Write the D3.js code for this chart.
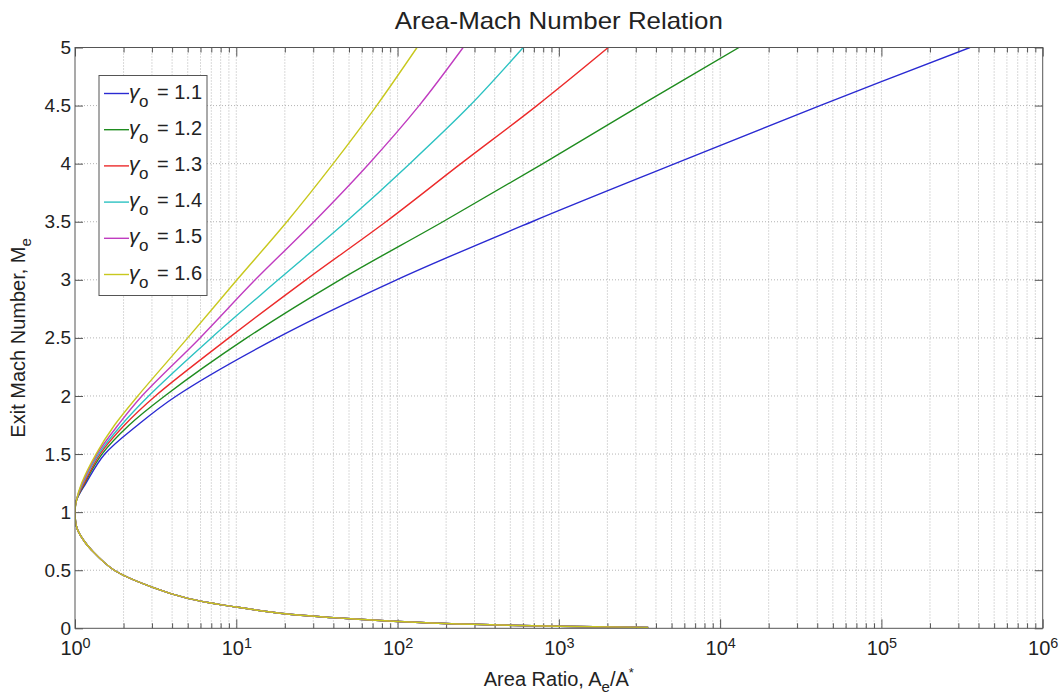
<!DOCTYPE html>
<html>
<head>
<meta charset="utf-8">
<script src="https://cdnjs.cloudflare.com/ajax/libs/d3/7.8.5/d3.min.js"></script>
<style>
  body { margin: 0; background: #fff; }
  text { font-family: "Liberation Sans", Arial, Helvetica, sans-serif; fill: #222; }
  .grid line { stroke: #b4b4b4; stroke-width: 1; stroke-dasharray: 1, 2; }
  .axis line { stroke: #555; }
  .axis path { display: none; }
  .axis text { font-size: 20px; fill: #222; }
  .y-axis text { font-size: 19px; }
</style>
</head>
<body>
<script>
// gamma values shown in the legend
const gammas = [1.1, 1.2, 1.3, 1.4, 1.5, 1.6];
const colors = ["#2a2ad2", "#1f8c1f", "#ec2b2b", "#2cc2c2", "#c03cc0", "#c8c81e"];

// subsonic branch (all curves nearly coincide)
const machSub = [0.008, 0.018, 0.041, 0.067, 0.092, 0.125, 0.183, 0.258, 0.355, 0.5, 0.672, 0.758, 0.859, 1];
const areaSub = [3580, 1000, 197, 77.8, 40, 20, 10, 5, 3, 1.75, 1.27, 1.13, 1.03, 1];

// supersonic branch, read per gamma
const machSup = [1.1, 1.25, 1.5, 1.75, 2, 2.5, 3, 3.5, 4, 4.5, 5];
const area11 = [1.02, 1.17, 1.53, 2.45, 4.25, 17.9, 98.7, 681, 5250, 41600, 354000];
const area12 = [1.02, 1.15, 1.47, 2.17, 3.6, 11.6, 43.9, 191, 797, 3184, 13090];
const area13 = [1.02, 1.14, 1.43, 2.03, 3.15, 9.0, 27.0, 84.7, 247, 731, 2024];
const area14 = [1.02, 1.12, 1.4, 1.94, 2.86, 7.0, 18.2, 47.9, 119, 281, 601];
const area15 = [1.02, 1.11, 1.37, 1.85, 2.6, 5.96, 13.1, 30.3, 66.5, 136, 255];
const area16 = [1.02, 1.1, 1.35, 1.76, 2.45, 5.0, 10.1, 20.6, 39.9, 74.2, 132];
const areaSupAll = [area11, area12, area13, area14, area15, area16];

const xMajor = [1, 10, 100, 1e3, 1e4, 1e5, 1e6];
const yTicks = [0, 0.5, 1, 1.5, 2, 2.5, 3, 3.5, 4, 4.5, 5];

const W = 1060, H = 698;
const pLeft = 75, pRight = 1042.7, pTop = 47.5, pBottom = 628.3;

const xMinor = [];
xMajor.slice(0, -1).forEach(d => { for (let k = 2; k <= 9; k++) xMinor.push(k * d); });

const x = d3.scaleLog().domain([1, 1e6]).range([pLeft, pRight]);
const y = d3.scaleLinear().domain([0, 5]).range([pBottom, pTop]);

const svg = d3.select("body").append("svg").attr("width", W).attr("height", H);

svg.append("clipPath").attr("id", "plot-clip")
  .append("rect").attr("x", pLeft).attr("y", pTop)
  .attr("width", pRight - pLeft).attr("height", pBottom - pTop);

//--> grid
const grid = svg.append("g").attr("class", "grid");
grid.selectAll(".gx").data(xMinor.concat(xMajor.slice(1, -1))).enter().append("line")
  .attr("x1", d => x(d)).attr("x2", d => x(d)).attr("y1", pTop).attr("y2", pBottom);
grid.selectAll(".gy").data(yTicks.slice(1, -1)).enter().append("line")
  .attr("x1", pLeft).attr("x2", pRight).attr("y1", d => y(d)).attr("y2", d => y(d));

//--> axes (ticks pointing inward on all sides)
const addAxis = (axis, tx, ty, cls = "") => svg.append("g").attr("class", "axis " + cls)
  .attr("transform", `translate(${tx},${ty})`).call(axis);

addAxis(d3.axisBottom(x).tickValues(xMinor).tickSize(-5).tickFormat(""), 0, pBottom);
addAxis(d3.axisTop(x).tickValues(xMinor).tickSize(-5).tickFormat(""), 0, pTop);
addAxis(d3.axisTop(x).tickValues(xMajor).tickSize(-9).tickFormat(""), 0, pTop);
const xAx = addAxis(d3.axisBottom(x).tickValues(xMajor).tickSize(-9).tickPadding(13)
  .tickFormat(() => "10"), 0, pBottom);
xAx.selectAll(".tick text").each(function (d) {
  d3.select(this).append("tspan").attr("dy", "-0.55em").attr("font-size", "0.72em")
    .text(Math.round(Math.log10(d)));
});
addAxis(d3.axisLeft(y).tickValues(yTicks).tickSize(-8).tickPadding(4)
  .tickFormat(d => String(d)), pLeft, 0, "y-axis");
addAxis(d3.axisRight(y).tickValues(yTicks).tickSize(-8).tickFormat(""), pRight, 0);

//--> curves
const line = d3.line()
  .x(d => x(d.a)).y(d => y(d.m))
  .curve(d3.curveCatmullRom.alpha(0.5));

const series = gammas.map((g, i) => {
  const pts = machSub.map((m, j) => ({ m, a: areaSub[j] }));
  machSup.forEach((m, j) => pts.push({ m, a: areaSupAll[i][j] }));
  return { g, color: colors[i], pts };
});

svg.append("g").attr("clip-path", "url(#plot-clip)")
  .selectAll("path").data(series).enter().append("path")
  .attr("d", d => line(d.pts))
  .attr("fill", "none")
  .attr("stroke", d => d.color)
  .attr("stroke-width", 1.4);

//--> frame
svg.append("rect").attr("x", pLeft).attr("y", pTop)
  .attr("width", pRight - pLeft).attr("height", pBottom - pTop)
  .attr("fill", "none").attr("stroke", "#555").attr("stroke-width", 1);

//--> legend
const legend = svg.append("g").attr("transform", "translate(99,75.5)");
legend.append("rect").attr("width", 108).attr("height", 220)
  .attr("fill", "#fff").attr("stroke", "#555");
const rows = legend.selectAll(".row").data(series).enter().append("g")
  .attr("transform", (d, i) => `translate(0,${18 + i * 36.2})`);
rows.append("line").attr("x1", 5).attr("x2", 30).attr("y1", 0).attr("y2", 0)
  .attr("stroke", d => d.color).attr("stroke-width", 1.4);
const lt = rows.append("text").attr("y", 5).attr("font-size", "20px");
lt.append("tspan").attr("x", 30).attr("font-size", "21px").attr("font-style", "italic").text("γ");
lt.append("tspan").attr("x", 40).attr("dy", 8).attr("font-size", "17px").text("o");
lt.append("tspan").attr("x", 58).attr("dy", -8).text(d => "= " + d.g.toFixed(1));

//--> title
svg.append("text").attr("x", (pLeft + pRight) / 2).attr("y", 29)
  .attr("text-anchor", "middle").attr("font-size", "24px")
  .attr("textLength", 328).attr("lengthAdjust", "spacingAndGlyphs")
  .text("Area-Mach Number Relation");

//--> x label
const xl = svg.append("text").attr("x", (pLeft + pRight) / 2).attr("y", 686)
  .attr("text-anchor", "middle").attr("font-size", "20px");
xl.append("tspan").text("Area Ratio, A");
xl.append("tspan").attr("dy", 6).attr("font-size", "15px").text("e");
xl.append("tspan").attr("dy", -6).text("/A");
xl.append("tspan").attr("dy", -9).attr("font-size", "13px").text("*");

//--> y label
const yl = svg.append("text").attr("transform", "rotate(-90)")
  .attr("x", -(pTop + pBottom) / 2).attr("y", 25)
  .attr("text-anchor", "middle").attr("font-size", "20px");
yl.append("tspan").text("Exit Mach Number, M");
yl.append("tspan").attr("dy", 6).attr("font-size", "15px").text("e");
</script>
</body>
</html>
